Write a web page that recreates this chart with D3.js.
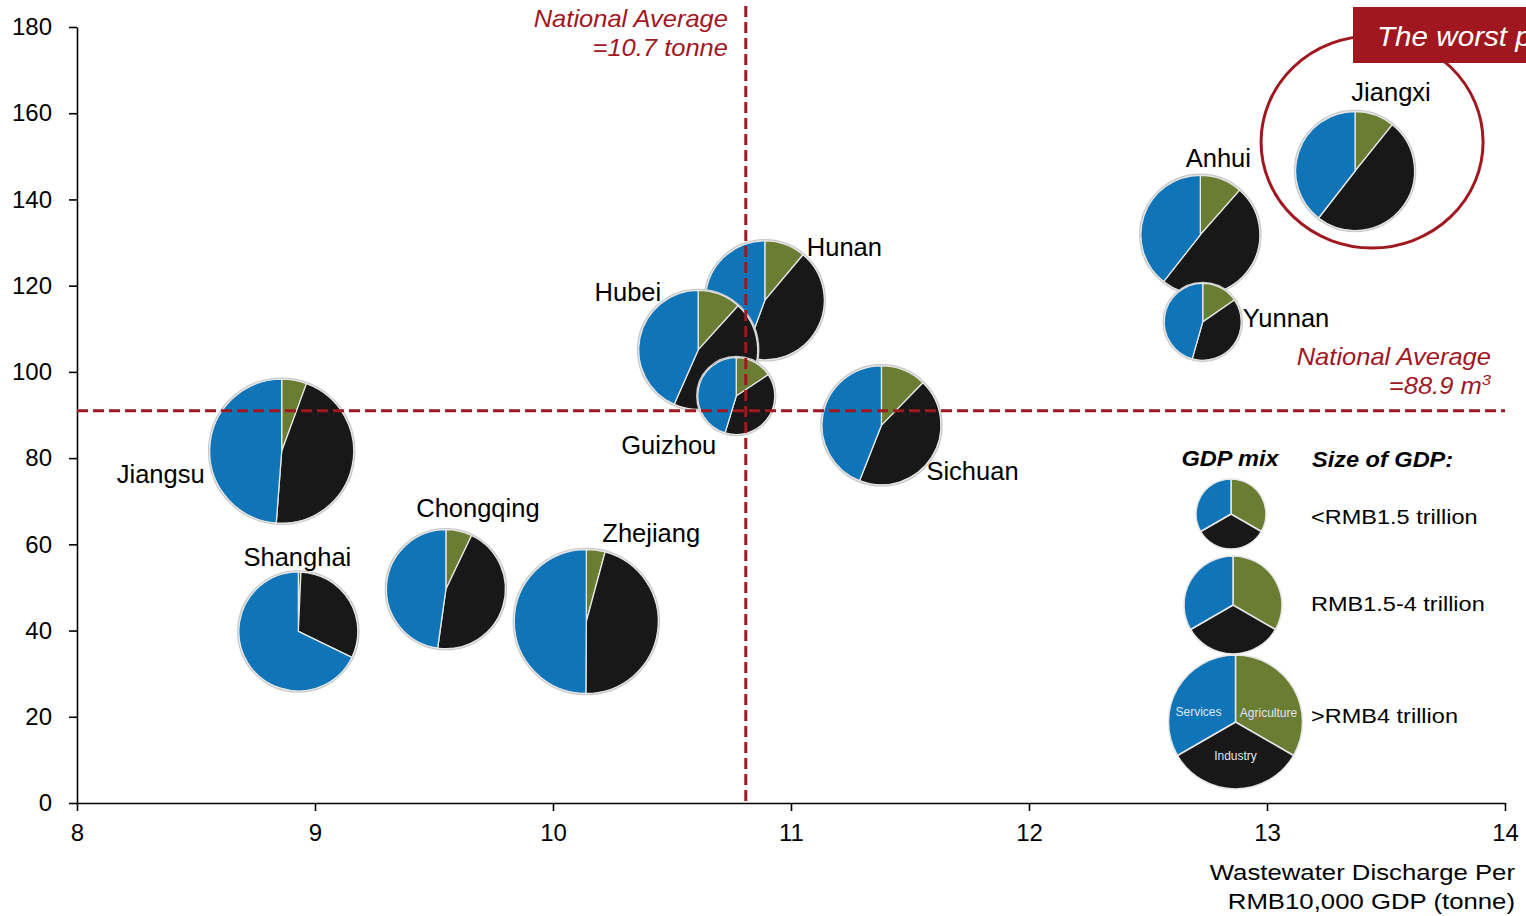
<!DOCTYPE html>
<html>
<head>
<meta charset="utf-8">
<script src="https://cdn.jsdelivr.net/npm/d3@7"></script>
<style>
  html, body { margin: 0; padding: 0; background: #fff; }
  svg { display: block; font-family: "Liberation Sans", Arial, Helvetica, sans-serif; }
</style>
</head>
<body>
<svg id="chart" width="1526" height="916"></svg>
<script>
// ---------------- data ----------------
const provinces   = ["Jiangsu", "Shanghai", "Chongqing", "Zhejiang", "Hunan", "Hubei", "Guizhou", "Sichuan", "Anhui", "Yunnan", "Jiangxi"];
const wastewater  = [8.86, 8.93, 9.55, 10.14, 10.89, 10.61, 10.77, 11.38, 12.72, 12.73, 13.37];   // tonne per RMB10,000 GDP
const waterUse    = [81.6, 39.8, 49.6, 42.1, 116.6, 105.1, 94.4, 87.6, 131.8, 111.6, 146.6];      // m3 per RMB10,000 GDP
const agriculture = [5.6, 0.7, 7.1, 4.2, 11.1, 11.7, 15.6, 12.3, 11.5, 15.4, 10.8];
const industry    = [45.6, 31.5, 45.1, 45.9, 44.5, 44.9, 39.1, 43.7, 49.1, 39.0, 49.7];
const services    = [48.8, 67.8, 47.8, 49.9, 44.4, 43.4, 45.3, 44.0, 39.4, 45.6, 39.5];
const gdpClass    = ["large", "medium", "medium", "large", "medium", "medium", "small", "medium", "medium", "small", "medium"];

const xTicks = [8, 9, 10, 11, 12, 13, 14];
const yTicks = [0, 20, 40, 60, 80, 100, 120, 140, 160, 180];
const avgWastewater = 10.81;   // drawn position of the "10.7 tonne" line
const avgWaterUse   = 91.0;    // drawn position of the "88.9 m3" line

const legendClasses = ["small", "medium", "large"];
const legendLabels  = ["<RMB1.5 trillion", "RMB1.5-4 trillion", ">RMB4 trillion"];
const sectorNames   = ["Agriculture", "Industry", "Services"];
const legendMix     = [1, 1, 1];

// ---------------- layout / style ----------------
const colors = { Agriculture: "#6a7d33", Industry: "#181818", Services: "#0f75b8" };
const red = "#a1171f";

const labelLayout = {
  Jiangsu:   { dx: -77, dy: 32,  anchor: "end" },
  Shanghai:  { dx: -1,  dy: -65, anchor: "middle" },
  Chongqing: { dx: 32,  dy: -72, anchor: "middle" },
  Zhejiang:  { dx: 16,  dy: -80, anchor: "start" },
  Hunan:     { dx: 42,  dy: -44, anchor: "start" },
  Hubei:     { dx: -37, dy: -49, anchor: "end" },
  Guizhou:   { dx: -20, dy: 58,  anchor: "end" },
  Sichuan:   { dx: 45,  dy: 55,  anchor: "start" },
  Anhui:     { dx: 18,  dy: -68, anchor: "middle" },
  Yunnan:    { dx: 40,  dy: 5,   anchor: "start" },
  Jiangxi:   { dx: 36,  dy: -70, anchor: "middle" }
};
const drawOrder = ["Jiangsu", "Shanghai", "Chongqing", "Zhejiang", "Hunan", "Hubei", "Guizhou", "Sichuan", "Anhui", "Yunnan", "Jiangxi"];

const svg = d3.select("#chart");

// text helper with optional horizontal stretch (the reference glyphs are slightly wide)
function addText(parent, px, py, str, o = {}) {
  const t = parent.append("text")
    .attr("transform", `translate(${px},${py}) scale(${o.sx || 1},1)`)
    .attr("text-anchor", o.anchor || "start")
    .attr("fill", o.fill || "#000")
    .style("font-size", (o.size || 24) + "px");
  if (o.italic) t.style("font-style", "italic");
  if (o.bold) t.style("font-weight", "bold");
  t.text(str);
  return t;
}

const x = d3.scaleLinear().domain([8, 14]).range([77, 1505]);
const y = d3.scaleLinear().domain([0, 180]).range([803, 27]);
const r = d3.scaleOrdinal().domain(["small", "medium", "large"]).range([38.5, 59.5, 72]);
const rLegend = d3.scaleOrdinal().domain(["small", "medium", "large"]).range([35, 49, 67]);

const pie = d3.pie().sort(null).value(d => d.value);

const rows = provinces.map((p, i) => ({
  name: p, x: wastewater[i], y: waterUse[i], cls: gdpClass[i],
  mix: [
    { key: "Agriculture", value: agriculture[i] },
    { key: "Industry", value: industry[i] },
    { key: "Services", value: services[i] }
  ]
}));
const rowsOrdered = drawOrder.map(n => rows.find(d => d.name === n));

// ---------------- axes ----------------
const xAxis = svg.append("g")
  .attr("transform", `translate(0,${y(0)})`)
  .call(d3.axisBottom(x).tickValues(xTicks).tickFormat(d3.format("d")).tickSize(8).tickSizeOuter(0).tickPadding(13));
const yAxis = svg.append("g")
  .attr("transform", `translate(${x(8)},0)`)
  .call(d3.axisLeft(y).tickValues(yTicks).tickFormat(d3.format("d")).tickSize(8).tickSizeOuter(0).tickPadding(17));
[xAxis, yAxis].forEach(g => {
  g.selectAll("path.domain").attr("stroke", "#000").attr("stroke-width", 1.6);
  g.selectAll(".tick line").attr("stroke", "#000").attr("stroke-width", 1.6);
  g.selectAll(".tick text").attr("fill", "#000").style("font-size", "24px")
    .style("font-family", "'Liberation Sans', Arial, sans-serif");
});

// axis title
addText(svg, 1515, 880, "Wastewater Discharge Per", { anchor: "end", size: 23, sx: 1.12 });
addText(svg, 1515, 909, "RMB10,000 GDP (tonne)", { anchor: "end", size: 23, sx: 1.12 });

// ---------------- pies ----------------
const pieG = svg.append("g");
rowsOrdered.forEach(d => {
  const rad = r(d.cls);
  const g = pieG.append("g").attr("transform", `translate(${x(d.x)},${y(d.y)})`);
  g.append("circle").attr("r", rad + 1).attr("fill", "none").attr("stroke", "#c8c8c8").attr("stroke-width", 1.5);
  const arc = d3.arc().innerRadius(0).outerRadius(rad);
  g.selectAll("path").data(pie(d.mix)).join("path")
    .attr("d", arc)
    .attr("fill", s => colors[s.data.key])
    .attr("stroke", "#e6e6e6").attr("stroke-width", 1.3).attr("stroke-linejoin", "round");
});

// ---------------- national average lines ----------------
svg.append("line")
  .attr("x1", x(8)).attr("x2", x(14)).attr("y1", y(avgWaterUse)).attr("y2", y(avgWaterUse))
  .attr("stroke", red).attr("stroke-width", 3).attr("stroke-dasharray", "11,5");
svg.append("line")
  .attr("x1", x(avgWastewater)).attr("x2", x(avgWastewater)).attr("y1", 6).attr("y2", y(0))
  .attr("stroke", red).attr("stroke-width", 3).attr("stroke-dasharray", "11,5");

addText(svg, 728, 27, "National Average", { anchor: "end", size: 23, sx: 1.11, italic: true, fill: red });
addText(svg, 728, 56, "=10.7 tonne", { anchor: "end", size: 23, sx: 1.11, italic: true, fill: red });
addText(svg, 1491, 365, "National Average", { anchor: "end", size: 23, sx: 1.11, italic: true, fill: red });
const ha2 = addText(svg, 1491, 394, "", { anchor: "end", size: 23, sx: 1.11, italic: true, fill: red });
ha2.append("tspan").text("=88.9 m");
ha2.append("tspan").attr("dy", -9).style("font-size", "15px").text("3");

// ---------------- labels ----------------
rowsOrdered.forEach(d => {
  const L = labelLayout[d.name];
  addText(svg, x(d.x) + L.dx, y(d.y) + L.dy, d.name, { anchor: L.anchor, size: 25.5 });
});

// ---------------- worst performer highlight ----------------
const jx = rows.find(d => d.name === "Jiangxi");
svg.append("ellipse")
  .attr("cx", x(jx.x) + 17).attr("cy", y(jx.y) - 29).attr("rx", 111).attr("ry", 106)
  .attr("fill", "none").attr("stroke", red).attr("stroke-width", 3);
svg.append("rect").attr("x", 1353).attr("y", 7).attr("width", 260).attr("height", 56).attr("fill", red);
addText(svg, 1377, 46, "The worst performers", { size: 28.5, sx: 1.04, italic: true, fill: "#fff" });

// ---------------- legend ----------------
const leg = svg.append("g");
addText(leg, 1230, 466, "GDP mix", { anchor: "middle", size: 22, sx: 1.07, bold: true, italic: true });
addText(leg, 1312, 467, "Size of GDP:", { size: 22, sx: 1.07, bold: true, italic: true });

const legendCenters = [{ cx: 1231, cy: 514 }, { cx: 1233, cy: 605 }, { cx: 1235.5, cy: 722 }];
const legendTextY = [524, 611, 723];
legendClasses.forEach((c, i) => {
  const rad = rLegend(c);
  const g = leg.append("g").attr("transform", `translate(${legendCenters[i].cx},${legendCenters[i].cy})`);
  const arc = d3.arc().innerRadius(0).outerRadius(rad);
  const slices = pie(sectorNames.map((k, j) => ({ key: k, value: legendMix[j] })));
  g.selectAll("path").data(slices).join("path")
    .attr("d", arc).attr("fill", s => colors[s.data.key])
    .attr("stroke", "#e6e6e6").attr("stroke-width", 1.5);
  if (c === "large") {
    const lab = { Agriculture: [33, -5], Industry: [0, 38], Services: [-37, -6] };
    g.selectAll("text.sec").data(slices).join("text").attr("class", "sec")
      .attr("x", s => lab[s.data.key][0]).attr("y", s => lab[s.data.key][1])
      .attr("text-anchor", "middle").attr("fill", "#dfe6ee").style("font-size", "12px")
      .text(s => s.data.key);
  }
  addText(leg, 1311, legendTextY[i], legendLabels[i], { size: 21, sx: 1.12 });
});
</script>
</body>
</html>
